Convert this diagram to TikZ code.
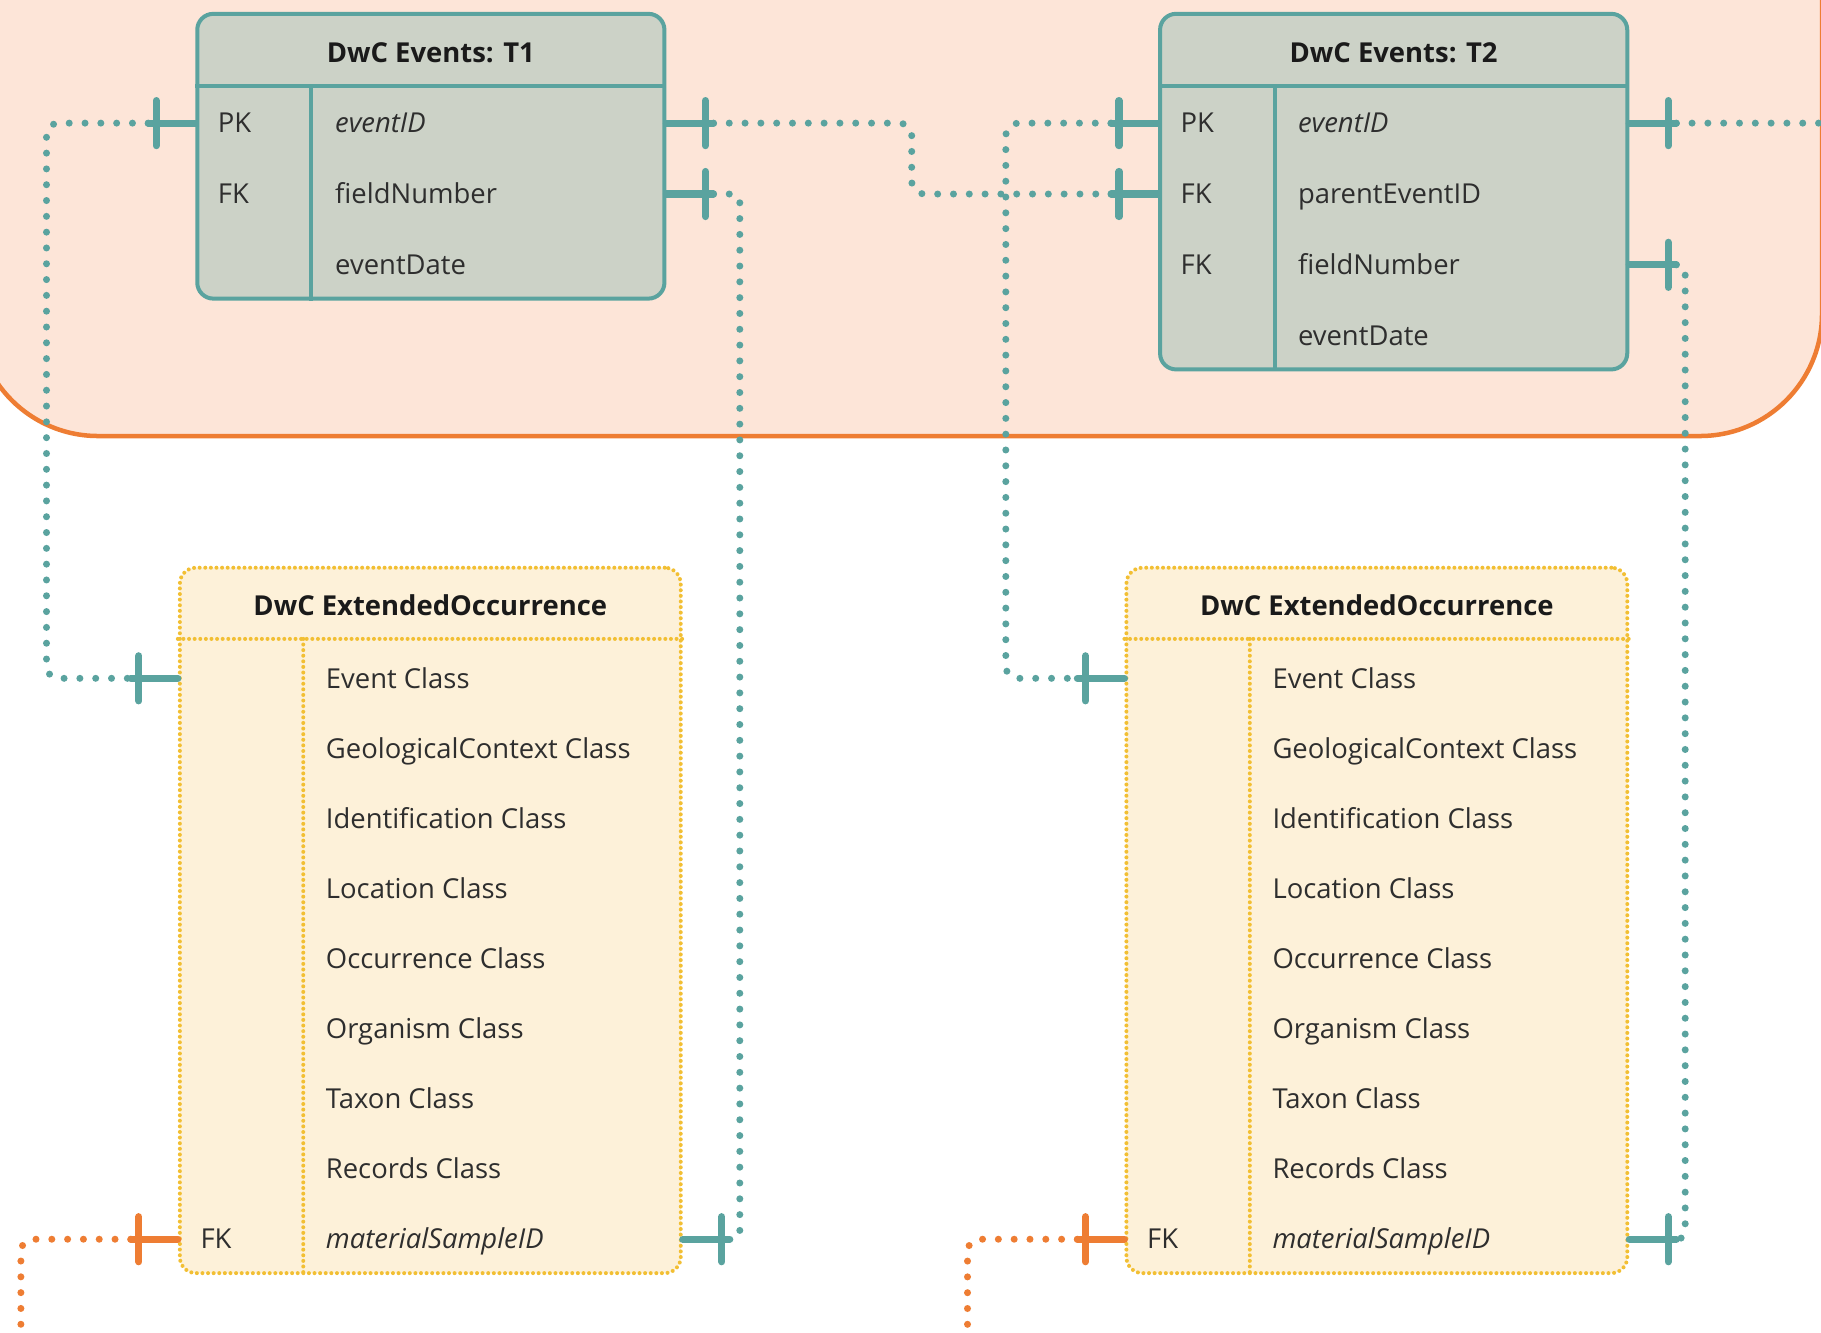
\documentclass[tikz,border=0pt]{standalone}
\usepackage{fontspec}
\setmainfont{Open Sans}
\usetikzlibrary{calc}

\definecolor{peach}{HTML}{FDE5D8}
\definecolor{orangeline}{HTML}{EE7D33}
\definecolor{tealline}{HTML}{5AA39F}
\definecolor{evfill}{HTML}{CCD2C7}
\definecolor{occfill}{HTML}{FDF1D9}
\definecolor{occline}{HTML}{F2BF33}
\definecolor{ink}{HTML}{2E2E2E}
\definecolor{headink}{HTML}{1A1A1A}

% short solid stub ending in a crossbar ("exactly one" mark)
\newcommand\erstub[3]{%
  \draw[stubline,#3] #1 -- ++(#2*47,0);
  \draw[stubline,#3] ($#1+(#2*39,-22.5)$) -- ++(0,45);}

\begin{document}
\begin{tikzpicture}[x=0.01cm,y=-0.01cm,
  font=\fontsize{7.8pt}{9pt}\selectfont,
  evbox/.style={draw=tealline, line width=0.04cm, fill=evfill,
    rounded corners=0.16cm, minimum width=4.669cm, inner sep=0pt},
  occbox/.style={draw=occline, line width=0.04cm, fill=occfill,
    rounded corners=0.16cm, line cap=round, dash pattern=on 0pt off 0.056cm,
    minimum width=5.006cm, minimum height=7.05cm, inner sep=0pt},
  evrule/.style={draw=tealline, line width=0.04cm},
  occrule/.style={draw=occline, line width=0.04cm, line cap=round,
    dash pattern=on 0pt off 0.056cm},
  headtext/.style={anchor=base, yshift=-0.1cm, text=headink,
    font=\fontsize{7.8pt}{9pt}\selectfont\bfseries},
  rowtext/.style={anchor=base west, yshift=-0.097cm, text=ink, inner sep=0pt},
  stubline/.style={line width=0.072cm, line cap=round},
  link/.style={line width=0.07cm, line cap=round,
    dash pattern=on 0pt off 0.158cm, rounded corners=0.12cm},
  tlink/.style={link, draw=tealline},
  olink/.style={link, draw=orangeline},
]
\useasboundingbox (0,0) rectangle (1821,1332);
\clip (0,0) rectangle (1821,1332);
\fill[white] (0,0) rectangle (1821,1332);

% shaded events area
\draw[fill=peach, draw=orangeline, line width=0.045cm, rounded corners=1.22cm]
  (-24,-300) rectangle (1822,436);

% row levels
\coordinate (er1) at (0,123.1);
\coordinate (er2) at (0,194.0);
\coordinate (er3) at (0,264.8);
\coordinate (er4) at (0,335.6);
\coordinate (or1) at (0,678.3);
\coordinate (or9) at (0,1239.2);

% ---------- tables ----------
\node[evbox, minimum height=2.846cm] (t1) at (430.85,156.2) {};
\node[evbox, minimum height=3.554cm] (t2) at (1393.65,191.6) {};
\node[occbox] (o1) at (430.3,920.4) {};
\node[occbox] (o2) at (1376.85,920.4) {};

% events T1
\draw[evrule] ($(t1.north west)+(0,74.4)$) -- ($(t1.north east)+(0,74.4)$);
\draw[evrule] ($(t1.north west)+(116.2,74.4)$) -- ($(t1.south west)+(116.2,0)$);
\node[headtext] (t1h) at (t1.center |- 0,52.3) {DwC Events: T1};
\node[rowtext] (t1k1) at (217.2,123.1) {PK};
\node[rowtext] (t1k2) at (217.2,194.0) {FK};
\node[rowtext] (t1f1) at (334.5,123.1) {\itshape eventID};
\node[rowtext] (t1f2) at (334.5,194.0) {fieldNumber};
\node[rowtext] (t1f3) at (334.5,264.8) {eventDate};

% events T2
\draw[evrule] ($(t2.north west)+(0,74.4)$) -- ($(t2.north east)+(0,74.4)$);
\draw[evrule] ($(t2.north west)+(117.3,74.4)$) -- ($(t2.south west)+(117.3,0)$);
\node[headtext] (t2h) at (t2.center |- 0,52.3) {DwC Events: T2};
\node[rowtext] (t2k1) at (1180.0,123.1) {PK};
\node[rowtext] (t2k2) at (1180.0,194.0) {FK};
\node[rowtext] (t2k3) at (1180.0,264.8) {FK};
\node[rowtext] (t2f1) at (1297.3,123.1) {\itshape eventID};
\node[rowtext] (t2f2) at (1297.3,194.0) {parentEventID};
\node[rowtext] (t2f3) at (1297.3,264.8) {fieldNumber};
\node[rowtext] (t2f4) at (1297.3,335.6) {eventDate};

% extended occurrence tables
\foreach \b/\x in {o1/180, o2/1126.6}{
  \draw[occrule] ($(\b.north west)+(0,73.2)$) -- ($(\b.north east)+(0,73.2)$);
  \draw[occrule] ($(\b.north west)+(125.4,73.2)$) -- ($(\b.south west)+(125.4,0)$);
  \node[headtext] (\b h) at (\b.center |- 0,605) {DwC ExtendedOccurrence};
  \foreach \t [count=\i] in {Event Class, GeologicalContext Class,
      Identification Class, Location Class, Occurrence Class,
      Organism Class, Taxon Class, Records Class}
    \node[rowtext] (\b f\i) at (\x+145.2, 678.3+70.11*\i-70.11) {\t};
  \node[rowtext] (\b f9) at (\x+145.2,1239.2) {\itshape materialSampleID};
  \node[rowtext] (\b k9) at (\x+19.8,1239.2) {FK};
}

% ---------- stub ends ----------
\coordinate (a1) at ($(t1.west |- er1)+(-47,0)$);
\coordinate (a2) at ($(t1.east |- er1)+(47,0)$);
\coordinate (a3) at ($(t1.east |- er2)+(47,0)$);
\coordinate (b1) at ($(t2.west |- er1)+(-47,0)$);
\coordinate (b2) at ($(t2.west |- er2)+(-47,0)$);
\coordinate (b3) at ($(t2.east |- er1)+(47,0)$);
\coordinate (b4) at ($(t2.east |- er3)+(47,0)$);
\coordinate (c1) at ($(o1.west |- or1)+(-47,0)$);
\coordinate (c2) at ($(o1.west |- or9)+(-47,0)$);
\coordinate (c3) at ($(o1.east |- or9)+(47,0)$);
\coordinate (d1) at ($(o2.west |- or1)+(-47,0)$);
\coordinate (d2) at ($(o2.west |- or9)+(-47,0)$);
\coordinate (d3) at ($(o2.east |- or9)+(47,0)$);
\coordinate (tailR) at (1840,123.1);
\coordinate (tailA) at (20.9,1345);
\coordinate (tailB) at (967.5,1345);

% ---------- connectors ----------
\draw[tlink] (a1) -- (46.5,123.1) -- (46.5,678.3) -- (c1);
\draw[tlink] (a2) -- (911.7,123.1) -- (911.7,194.0) -- (b2);
\draw[tlink, rounded corners=0.08cm] (a3) -- (739.8,194.0) -- (739.8,1239.2) -- (c3);
\draw[tlink] (b1) -- (1005.8,123.1) -- (1005.8,678.3) -- (d1);
\draw[tlink] (b3) -- (tailR);
\draw[tlink, rounded corners=0.08cm] (b4) -- (1685.2,264.8) -- (1685.2,1239.2) -- (d3);
\draw[olink] (c2) -- (20.9,1239.2) -- (tailA);
\draw[olink] (d2) -- (967.5,1239.2) -- (tailB);

% ---------- stubs with crossbars ----------
\erstub{(t1.west |- er1)}{-1}{tealline}
\erstub{(t1.east |- er1)}{1}{tealline}
\erstub{(t1.east |- er2)}{1}{tealline}
\erstub{(t2.west |- er1)}{-1}{tealline}
\erstub{(t2.west |- er2)}{-1}{tealline}
\erstub{(t2.east |- er1)}{1}{tealline}
\erstub{(t2.east |- er3)}{1}{tealline}
\erstub{(o1.west |- or1)}{-1}{tealline}
\erstub{(o1.east |- or9)}{1}{tealline}
\erstub{(o1.west |- or9)}{-1}{orangeline}
\erstub{(o2.west |- or1)}{-1}{tealline}
\erstub{(o2.east |- or9)}{1}{tealline}
\erstub{(o2.west |- or9)}{-1}{orangeline}
\end{tikzpicture}
\end{document}
